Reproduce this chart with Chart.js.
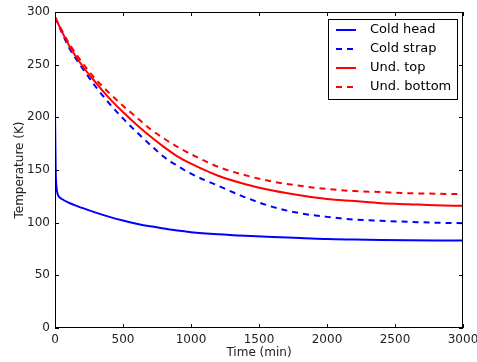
<!DOCTYPE html>
<html>
<head>
<meta charset="utf-8">
<script src="https://cdn.jsdelivr.net/npm/chart.js@4.4.1/dist/chart.umd.min.js"></script>
<style>
  body { margin: 0; background: #fff; }
  #grafico { display: block; }
</style>
</head>
<body>
<canvas id="grafico" width="477" height="362"></canvas>
<script>
// valores
const tempo = [0, 100, 200, 300, 400, 500, 600, 700, 800, 900, 1000, 1200, 1400, 1600, 1800, 2000, 2200, 2400, 2600, 2800, 3000]
const tempoColdHead = [0, 5, 10, 20, 30, 50, 100, 200, 300, 400, 500, 600, 700, 800, 900, 1000, 1200, 1400, 1600, 1800, 2000, 2200, 2400, 2600, 2800, 3000]

const coldHead = [205, 150, 135, 127, 124.5, 122.5, 119, 114, 109.5, 105.5, 102, 99, 96.5, 94.5, 92.5, 91, 89, 87.5, 86.3, 85.5, 84.5, 84, 83.6, 83.3, 83.1, 83]
const coldStrap = [295, 267, 247, 229, 213, 199, 186, 174, 162.5, 154, 146.5, 135, 124, 115, 109, 105.5, 103, 101.8, 100.8, 100, 99.5]
const undTop = [295, 269, 249, 233, 218, 205, 193, 182, 172, 163, 156, 144.5, 136.5, 130.5, 126, 122.5, 120.5, 118.5, 117.5, 116.5, 116]
const undBottom = [295, 271, 252, 236, 223, 211, 200, 189, 180, 172, 165, 153, 145, 139, 135, 132, 130, 129, 128, 127.5, 127]

const xTicks = [0, 500, 1000, 1500, 2000, 2500, 3000]
const yTicks = [0, 50, 100, 150, 200, 250, 300]

const fonte = "'DejaVu Sans', sans-serif"

function pontos(xs, ys) {
    return ys.map((y, i) => ({ x: xs[i], y: y }))
}

function serie(label, xs, ys, cor, tracejado, ordem) {
    return {
        label: label,
        data: pontos(xs, ys),
        borderColor: cor,
        backgroundColor: cor,
        borderWidth: 2,
        borderDash: tracejado ? [6, 5] : [],
        pointRadius: 0,
        cubicInterpolationMode: 'monotone',
        fill: false,
        order: ordem
    }
}

// moldura e ticks para dentro, nos quatro lados
const moldura = {
    id: 'moldura',
    afterDatasetsDraw(chart) {
        const ctx = chart.ctx
        const a = chart.chartArea
        const sx = chart.scales.x
        const sy = chart.scales.y
        ctx.save()
        ctx.strokeStyle = '#000'
        ctx.lineWidth = 1
        ctx.strokeRect(a.left + 0.5, a.top + 0.5, a.right - a.left - 1, a.bottom - a.top - 1)
        ctx.beginPath()
        xTicks.forEach(v => {
            const px = Math.round(sx.getPixelForValue(v)) + 0.5
            ctx.moveTo(px, a.bottom); ctx.lineTo(px, a.bottom - 4)
            ctx.moveTo(px, a.top); ctx.lineTo(px, a.top + 4)
        })
        yTicks.forEach(v => {
            const py = Math.round(sy.getPixelForValue(v)) + 0.5
            ctx.moveTo(a.left, py); ctx.lineTo(a.left + 4, py)
            ctx.moveTo(a.right, py); ctx.lineTo(a.right - 4, py)
        })
        ctx.stroke()
        ctx.restore()
    }
}

// legenda dentro da área do gráfico
const legenda = {
    id: 'legenda',
    afterDraw(chart) {
        const ctx = chart.ctx
        const caixa = { x: 328, y: 19, w: 129, h: 80 }
        ctx.save()
        ctx.fillStyle = '#fff'
        ctx.fillRect(caixa.x, caixa.y, caixa.w, caixa.h)
        ctx.strokeStyle = '#000'
        ctx.lineWidth = 1
        ctx.strokeRect(caixa.x + 0.5, caixa.y + 0.5, caixa.w, caixa.h)
        ctx.font = '13px ' + fonte
        ctx.textBaseline = 'middle'
        chart.data.datasets.forEach((ds, i) => {
            const y = 30 + i * 19
            ctx.beginPath()
            ctx.strokeStyle = ds.borderColor
            ctx.lineWidth = ds.borderWidth
            ctx.setLineDash(ds.borderDash)
            ctx.moveTo(336, y)
            ctx.lineTo(356, y)
            ctx.stroke()
            ctx.setLineDash([])
            ctx.fillStyle = '#000'
            ctx.fillText(ds.label, 370, y)
        })
        ctx.restore()
    }
}

const grafico = new Chart(document.getElementById('grafico'), {
    type: 'line',
    data: {
        datasets: [
            serie('Cold head', tempoColdHead, coldHead, '#0000ff', false, 3),
            serie('Cold strap', tempo, coldStrap, '#0000ff', true, 2),
            serie('Und. top', tempo, undTop, '#ff0000', false, 1),
            serie('Und. bottom', tempo, undBottom, '#ff0000', true, 0)
        ]
    },
    options: {
        responsive: false,
        animation: false,
        devicePixelRatio: 1,
        layout: { padding: { top: 12, right: 14, left: 0, bottom: 0 } },
        plugins: {
            legend: { display: false },
            tooltip: { enabled: false }
        },
        scales: {
            x: {
                type: 'linear',
                min: 0,
                max: 3000,
                afterBuildTicks: s => { s.ticks = xTicks.map(v => ({ value: v })) },
                afterFit: s => { s.height = 34; s.paddingLeft = 0; s.paddingRight = 0 },
                grid: { display: false, drawTicks: false },
                border: { display: false },
                ticks: { color: '#222', padding: 5, font: { family: fonte, size: 12 }, callback: v => String(v) },
                title: {
                    display: true,
                    text: 'Time (min)',
                    color: '#222',
                    font: { family: fonte, size: 12 },
                    padding: { top: 0, bottom: 2 }
                }
            },
            y: {
                min: 0,
                max: 300,
                afterBuildTicks: s => { s.ticks = yTicks.map(v => ({ value: v })) },
                afterFit: s => { s.width = 55; s.paddingTop = 0; s.paddingBottom = 0 },
                grid: { display: false, drawTicks: false },
                border: { display: false },
                ticks: { color: '#222', padding: 5, font: { family: fonte, size: 12 }, callback: v => String(v) },
                title: {
                    display: true,
                    text: 'Temperature (K)',
                    color: '#222',
                    font: { family: fonte, size: 12 },
                    padding: { top: 13, bottom: 0 }
                }
            }
        }
    },
    plugins: [moldura, legenda]
});
</script>
</body>
</html>
